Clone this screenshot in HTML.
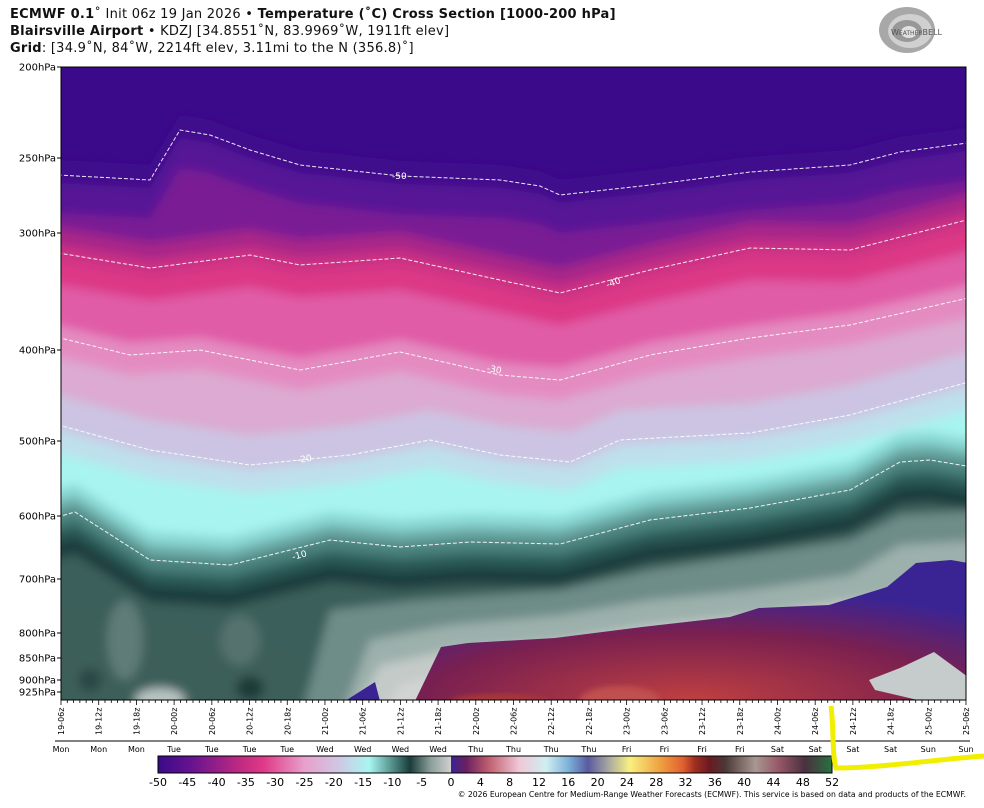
<!DOCTYPE html>
<html><head><meta charset="utf-8"><style>
body{margin:0;background:#fff;width:984px;height:808px;overflow:hidden;position:relative;font-family:"DejaVu Sans","Liberation Sans",sans-serif;}
.t{position:absolute;left:10px;font-size:13px;color:#111;white-space:nowrap;line-height:17px;letter-spacing:0.25px}
</style></head><body>
<div class="t" style="top:6px"><b>ECMWF 0.1</b>˚ Init 06z 19 Jan 2026 • <b>Temperature (˚C) Cross Section [1000-200 hPa]</b></div>
<div class="t" style="top:23px"><b>Blairsville Airport</b> • KDZJ [34.8551˚N, 83.9969˚W, 1911ft elev]</div>
<div class="t" style="top:40px"><b>Grid</b>: [34.9˚N, 84˚W, 2214ft elev, 3.11mi to the N (356.8)˚]</div>
<svg id="s" width="984" height="808" style="position:absolute;left:0;top:0" xmlns="http://www.w3.org/2000/svg">
<defs>
<clipPath id="cp"><rect x="61" y="67" width="905" height="633"/></clipPath>
<filter id="bl" x="-5%" y="-5%" width="110%" height="110%"><feGaussianBlur stdDeviation="5"/></filter>
<filter id="bl2"><feGaussianBlur stdDeviation="3"/></filter>
<radialGradient id="red" cx="0.5" cy="1" r="0.8"><stop offset="0" stop-color="#c04040"/><stop offset="0.6" stop-color="#7a2050"/><stop offset="1" stop-color="#3a2494"/></radialGradient>
</defs>
<g clip-path="url(#cp)">
<rect x="61" y="67" width="905" height="633" fill="#3a0a8a"/>
<g id="bands" filter="url(#bl)"></g>
<g id="low"></g>
<g id="cont" fill="none" stroke="#fff" stroke-width="1" stroke-dasharray="4,2" opacity="0.9"></g>
</g>
<g font-size="9" fill="#fff" font-family="DejaVu Sans">
<text x="392" y="179">-50</text><text x="606" y="286" transform="rotate(-20 612 283)">-40</text><text x="487" y="372" transform="rotate(10 492 369)">-30</text><text x="297" y="462" transform="rotate(-10 304 459)">-20</text><text x="292" y="558" transform="rotate(-15 300 555)">-10</text>
</g>
<rect x="61" y="67" width="905" height="633" fill="none" stroke="#000" stroke-width="1"/>
<g id="ax" font-size="10" fill="#000"></g>
<g id="cbx" font-size="11" fill="#000" text-anchor="middle"></g>
<text x="966" y="797" font-size="7.7" text-anchor="end" fill="#000">© 2026 European Centre for Medium-Range Weather Forecasts (ECMWF). This service is based on data and products of the ECMWF.</text>
<g transform="translate(907,30)">
<ellipse cx="0" cy="0" rx="28" ry="23" fill="#a8a8a8"/><ellipse cx="3" cy="1" rx="22" ry="17" fill="#d0d0d0"/><ellipse cx="0" cy="1" rx="15" ry="11" fill="#989898"/><ellipse cx="2" cy="2" rx="8" ry="6" fill="#e0e0e0"/>
<text x="-16" y="5" font-size="8" fill="#555">W<tspan font-size="6">EATHER</tspan>BELL</text>
</g>
</svg>
<script>
function ip(c,x){for(let i=0;i<c.length-1;i++){if(x<=c[i+1][0]){const a=c[i],b=c[i+1],t=(x-a[0])/(b[0]-a[0]);return a[1]+t*(b[1]-a[1]);}}return c[c.length-1][1];}
const C50=[[40,174],[150,180],[180,130],[210,135],[250,150],[300,165],[400,176],[500,180],[540,186],[560,195],[650,185],[750,172],[850,165],[900,152],[990,140]];
const C40=[[40,250],[150,268],[250,255],[300,265],[400,258],[500,280],[560,293],[650,270],[750,248],[850,250],[990,214]];
const C30=[[40,333],[130,355],[200,350],[300,370],[400,352],[500,375],[560,380],[650,355],[750,338],[850,325],[990,293]];
const C20=[[40,420],[150,450],[250,465],[350,455],[430,440],[500,455],[570,462],[620,440],[750,433],[850,415],[990,376]];
const C10=[[40,522],[75,512],[150,560],[230,565],[330,540],[400,547],[470,542],[560,544],[650,520],[750,508],[850,490],[900,462],[930,460],[990,470]];
function path(c,off,close){let d='';for(let x=40;x<=990;x+=5){d+=(d?'L':'M')+x+','+(ip(c,x)+off).toFixed(1);}if(close)d+='L990,720L40,720Z';return d;}
const bands=[[C50,-15,'#40108c'],[C50,8,'#561496'],[C50,38,'#7a1c94'],[C40,-25,'#a82688'],[C40,-8,'#cc3084'],[C40,8,'#dc3886'],[C40,32,'#e05ca6'],[C30,-12,'#e48cc2'],[C30,20,'#dcaad2'],[C20,-30,'#ccc4e2'],[C20,5,'#bee0ec'],[C20,28,'#a8f4f0'],[C10,-28,'#8ad8d4'],[C10,-15,'#6aa8a4'],[C10,-3,'#4a807c'],[C10,12,'#2c5a56'],[C10,25,'#1a3e3c'],[C10,42,'#3a5e5a']];
let h='';for(const b of bands)h+=`<path d="${path(b[0],b[1],true)}" fill="${b[2]}"/>`;
h+=`<path d="M300,720 L330,610 L420,600 L560,590 L650,570 L750,555 L850,540 L900,515 L990,510 L990,720Z" fill="#6e8c88"/>`;
h+=`<path d="M340,720 L370,640 L450,625 L560,615 L650,600 L750,590 L850,575 L900,545 L990,540 L990,720Z" fill="#9cb0ac"/>`;
h+=`<path d="M350,720 L380,665 L450,650 L560,640 L650,625 L750,615 L850,600 L990,580 L990,720Z" fill="#c4cac8"/>`;
h+=`<path d="M380,720 L400,685 L440,675 L990,660 L990,720Z" fill="#d2d4d4"/>`;
h+=`<path d="M61,600 L150,620 L230,640 L300,650 L300,720 L61,720Z" fill="#3e5e5a"/>`;
h+=`<ellipse cx="125" cy="640" rx="18" ry="40" fill="#5e7c78"/><ellipse cx="240" cy="640" rx="20" ry="25" fill="#54726e"/><ellipse cx="160" cy="700" rx="25" ry="12" fill="#b8c4c2"/><ellipse cx="250" cy="688" rx="14" ry="12" fill="#1e3a38"/><ellipse cx="90" cy="680" rx="12" ry="12" fill="#2a4a46"/>`;
document.getElementById('bands').innerHTML=h;
let l=`<path d="M415,701 L441,647 L468,643 L555,638 L642,627 L730,617 L759,608 L829,605 L887,587 L916,563 L951,560 L968,563 L968,701Z" fill="url(#red)"/>`;
l+=`<path d="M869,680 L900,668 L934,652 L968,677 L968,701 L922,701 L875,690Z" fill="#c6cccc"/>`;
l+=`<path d="M345,701 L375,682 L380,701Z" fill="#3a2494"/>`;
l+=`<ellipse cx="620" cy="700" rx="40" ry="14" fill="#c05050" filter="url(#bl2)"/><ellipse cx="500" cy="702" rx="50" ry="8" fill="#a83838" filter="url(#bl2)"/>`;
document.getElementById('low').innerHTML=l;
let c='';for(const k of [C50,C40,C30,C20,C10])c+=`<path d="${path(k,0,false)}"/>`;
document.getElementById('cont').innerHTML=c;
let a='';const P=[['200',67],['250',158],['300',233],['400',350],['500',441],['600',516],['700',579],['800',633],['850',658],['900',680],['925',692]];
for(const [t,y] of P){a+=`<line x1="57" x2="61" y1="${y}" y2="${y}" stroke="#000"/><text x="56" y="${y+3.5}" text-anchor="end">${t}hPa</text>`;}
const lab=['19-06z','19-12z','19-18z','20-00z','20-06z','20-12z','20-18z','21-00z','21-06z','21-12z','21-18z','22-00z','22-06z','22-12z','22-18z','23-00z','23-06z','23-12z','23-18z','24-00z','24-06z','24-12z','24-18z','25-00z','25-06z'];
const dy=['Mon','Mon','Mon','Tue','Tue','Tue','Tue','Wed','Wed','Wed','Wed','Thu','Thu','Thu','Thu','Fri','Fri','Fri','Fri','Sat','Sat','Sat','Sat','Sun','Sun'];
const st=905/24;
for(let i=0;i<=144;i++){const x=61+i*st/6;a+=`<line x1="${x}" x2="${x}" y1="700" y2="${i%6?703:705}" stroke="#000" stroke-width="0.8"/>`;}
for(let i=0;i<25;i++){const x=61+i*st;a+=`<text font-size="8" transform="translate(${x+3},735) rotate(-90)">${lab[i]}</text><text x="${x}" y="752" font-size="8" text-anchor="middle">${dy[i]}</text>`;}
a+=`<line x1="55" x2="970" y1="741" y2="741" stroke="#000"/>`;
document.getElementById('ax').innerHTML=a;
let t='';for(let v=-50;v<0;v+=5){t+=`<text x="${158+(v+50)*5.86}" y="786">${v}</text>`;}
for(let v=0;v<=52;v+=4){t+=`<text x="${451+v*7.33}" y="786">${v}</text>`;}
document.getElementById('cbx').innerHTML=t;
</script>
<svg width="984" height="808" style="position:absolute;left:0;top:0;pointer-events:none">
<defs>
<linearGradient id="g1" x1="0" x2="1">
<stop offset="0" stop-color="#3a0a8a"/><stop offset="0.12" stop-color="#6a1490"/><stop offset="0.28" stop-color="#c02a80"/><stop offset="0.36" stop-color="#e03a88"/><stop offset="0.50" stop-color="#e8a0cc"/><stop offset="0.62" stop-color="#cfc8e4"/><stop offset="0.72" stop-color="#a8f6f0"/><stop offset="0.82" stop-color="#3e7470"/><stop offset="0.86" stop-color="#1a3c3a"/><stop offset="0.93" stop-color="#8a9e9a"/><stop offset="1" stop-color="#d0d0d0"/>
</linearGradient>
<linearGradient id="g2" x1="0" x2="1">
<stop offset="0" stop-color="#3a2494"/><stop offset="0.04" stop-color="#6a2060"/><stop offset="0.1" stop-color="#c06070"/><stop offset="0.18" stop-color="#f0c8d8"/><stop offset="0.25" stop-color="#d0eef0"/><stop offset="0.31" stop-color="#7ab0d8"/><stop offset="0.36" stop-color="#5a5aa0"/><stop offset="0.42" stop-color="#b0b0a0"/><stop offset="0.47" stop-color="#f8f080"/><stop offset="0.55" stop-color="#f0a040"/><stop offset="0.61" stop-color="#e06030"/><stop offset="0.64" stop-color="#a03020"/><stop offset="0.68" stop-color="#6a1a20"/><stop offset="0.72" stop-color="#4a3838"/><stop offset="0.80" stop-color="#a89890"/><stop offset="0.86" stop-color="#985868"/><stop offset="0.93" stop-color="#4a3040"/><stop offset="1" stop-color="#2a7040"/>
</linearGradient>
</defs>
<rect x="158.5" y="756.5" width="292.5" height="16.5" fill="url(#g1)"/>
<rect x="451" y="756.5" width="380.5" height="16.5" fill="url(#g2)"/>
<rect x="158" y="756" width="674" height="17" fill="none" stroke="#000"/>
<path d="M831,706 C834,730 832,755 836,768 C880,768 930,760 984,756" fill="none" stroke="#f2ee00" stroke-width="5"/>
</svg>
</body></html>
